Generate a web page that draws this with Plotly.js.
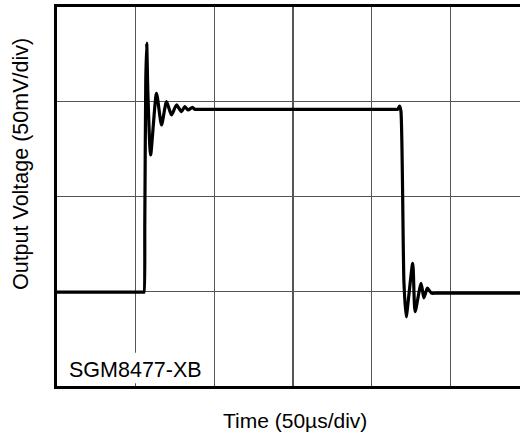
<!DOCTYPE html>
<html>
<head>
<meta charset="utf-8">
<script src="https://cdn.plot.ly/plotly-3.0.1.min.js"></script>
<style>
html,body{margin:0;padding:0;overflow:hidden;background:#fff;}
#chart{width:530px;height:432px;}
</style>
</head>
<body>
<div id="chart"></div>
<script>
// time in divisions (50 µs/div), output voltage in divisions (50 mV/div)
var timeDiv = [0, 1.0, 1.098, 1.106, 1.116, 1.128, 1.14, 1.155, 1.19, 1.265, 1.329, 1.392, 1.456, 1.519, 1.582, 1.624, 1.666, 1.722, 1.751, 1.8,
               4.28, 4.33, 4.355, 4.372, 4.41, 4.438, 4.522, 4.552, 4.628, 4.664, 4.708, 4.759, 4.82, 6];
var voltDiv = [0.99, 0.99, 0.99, 0.99, 1.7, 3.2, 3.62, 3.1, 2.438, 3.089, 2.755, 3.001, 2.861, 2.966, 2.895, 2.948, 2.913, 2.941, 2.92, 2.92,
               2.92, 2.92, 2.955, 2.9, 1.1, 0.731, 1.295, 0.784, 1.084, 0.929, 1.034, 0.98, 0.98, 0.98];

var xTitle = "Time (50µs/div)";
var yTitle = "Output Voltage (50mV/div)";
var label = "SGM8477-XB";

var font = "Liberation Sans, Arial, sans-serif";

var trace = {
  x: timeDiv, y: voltDiv, mode: "lines", type: "scatter",
  line: {color: "#000", width: 3.2, shape: "spline", smoothing: 0.6},
  hoverinfo: "skip"
};

var layout = {
  width: 530, height: 432,
  margin: {l: 57, r: 1, t: 7, b: 46},
  paper_bgcolor: "#fff", plot_bgcolor: "#fff",
  showlegend: false,
  font: {family: font, color: "#000"},
  xaxis: {
    range: [0, 6], tickvals: [0,1,2,3,4,5,6], showticklabels: false, ticks: "",
    showgrid: true, gridcolor: "#555", gridwidth: 1.3, zeroline: false,
    showline: true, linecolor: "#000", linewidth: 3, mirror: true, fixedrange: true
  },
  yaxis: {
    range: [0, 4], tickvals: [0,1,2,3,4], showticklabels: false, ticks: "",
    showgrid: true, gridcolor: "#555", gridwidth: 1.3, zeroline: false,
    showline: true, linecolor: "#000", linewidth: 3, mirror: true, fixedrange: true
  },
  shapes: [{
    type: "rect", xref: "x", yref: "y", x0: 0.02, x1: 1.97, y0: 0.03, y1: 0.35,
    fillcolor: "#fff", line: {width: 0}, layer: "above"
  }],
  annotations: [
    {text: label, xref: "paper", yref: "paper", x: 0.021, y: 0.043, xanchor: "left", yanchor: "middle",
     showarrow: false, font: {size: 21.5, family: font, color: "#000"}},
    {text: xTitle, xref: "paper", yref: "paper", x: 0.505, y: -0.09, xanchor: "center", yanchor: "middle",
     showarrow: false, font: {size: 21, family: font, color: "#000"}},
    {text: yTitle, xref: "paper", yref: "paper", x: -0.076, y: 0.586, xanchor: "center", yanchor: "middle",
     textangle: -90, showarrow: false, font: {size: 21.5, family: font, color: "#000"}}
  ]
};

Plotly.newPlot("chart", [trace], layout, {displayModeBar: false, staticPlot: true});
</script>
</body>
</html>
